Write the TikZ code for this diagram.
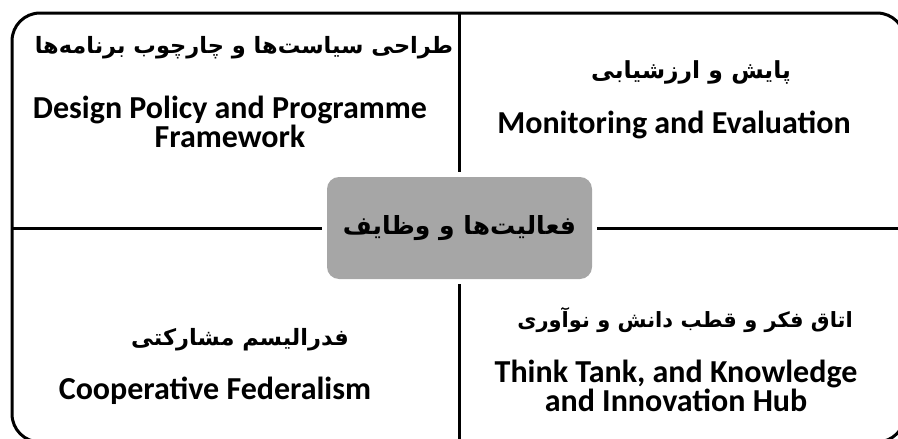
\documentclass[tikz,border=0pt]{standalone}
\usepackage{fontspec}
\setmainfont{Carlito}
\newfontfamily\fa[Script=Arabic]{DejaVu Sans}
\TeXXeTstate=1
\definecolor{boxgray}{RGB}{166,166,166}
\begin{document}
\begin{tikzpicture}[x=1pt,y=-1pt,
  frame/.style={line width=3pt, line cap=butt},
  entxt/.style={font=\bfseries\fontsize{32}{29}\selectfont, inner sep=0pt, align=center, anchor=center},
  fatxt/.style={font=\fa\bfseries\fontsize{22.5}{26}\selectfont, inner sep=0pt, anchor=center},
  centerbox/.style={fill=boxgray, rounded corners=12pt, minimum width=265pt, minimum height=102pt, inner sep=0pt,
     font=\fa\bfseries\fontsize{25}{30}\selectfont}]
\useasboundingbox (0,0) rectangle (898,439);
\clip (0,0) rectangle (898,439);
\draw[frame, rounded corners=28pt] (12,13) rectangle (905,442);
\node[centerbox] (c) at (459.5,228) {\beginR فعالیت‌ها و وظایف\endR};
\coordinate (ftop) at (459,13);
\coordinate (fbot) at (459,442);
\coordinate (fleft) at (12,228);
\coordinate (fright) at (905,228);
\draw[frame, shorten >=5pt] (ftop) -- (c.north -| ftop);
\draw[frame, shorten >=5pt] (fbot) -- (c.south -| fbot);
\draw[frame, shorten >=5pt] (fleft) -- (c.west);
\draw[frame, shorten >=5pt] (fright) -- (c.east);
% top left
\node[fatxt] (tlfa) at (244,48) {\beginR طراحی سیاست‌ها و چارچوب برنامه‌ها\endR};
\node[entxt] (tlen) at (230,122) {Design Policy and Programme\\Framework};
% top right
\node[fatxt, font=\fa\bfseries\fontsize{23.5}{27}\selectfont] (trfa) at (691,72) {\beginR پایش و ارزشیابی\endR};
\node[entxt] (tren) at (674,125) {Monitoring and Evaluation};
% bottom left
\node[fatxt] (blfa) at (240,340) {\beginR فدرالیسم مشارکتی\endR};
\node[entxt] (blen) at (215,391) {Cooperative Federalism};
% bottom right
\node[fatxt, font=\fa\bfseries\fontsize{21}{25}\selectfont] (brfa) at (685,320) {\beginR اتاق فکر و قطب دانش و نوآوری\endR};
\node[entxt] (bren) at (676,386) {Think Tank, and Knowledge\\and Innovation Hub};
\end{tikzpicture}
\end{document}
